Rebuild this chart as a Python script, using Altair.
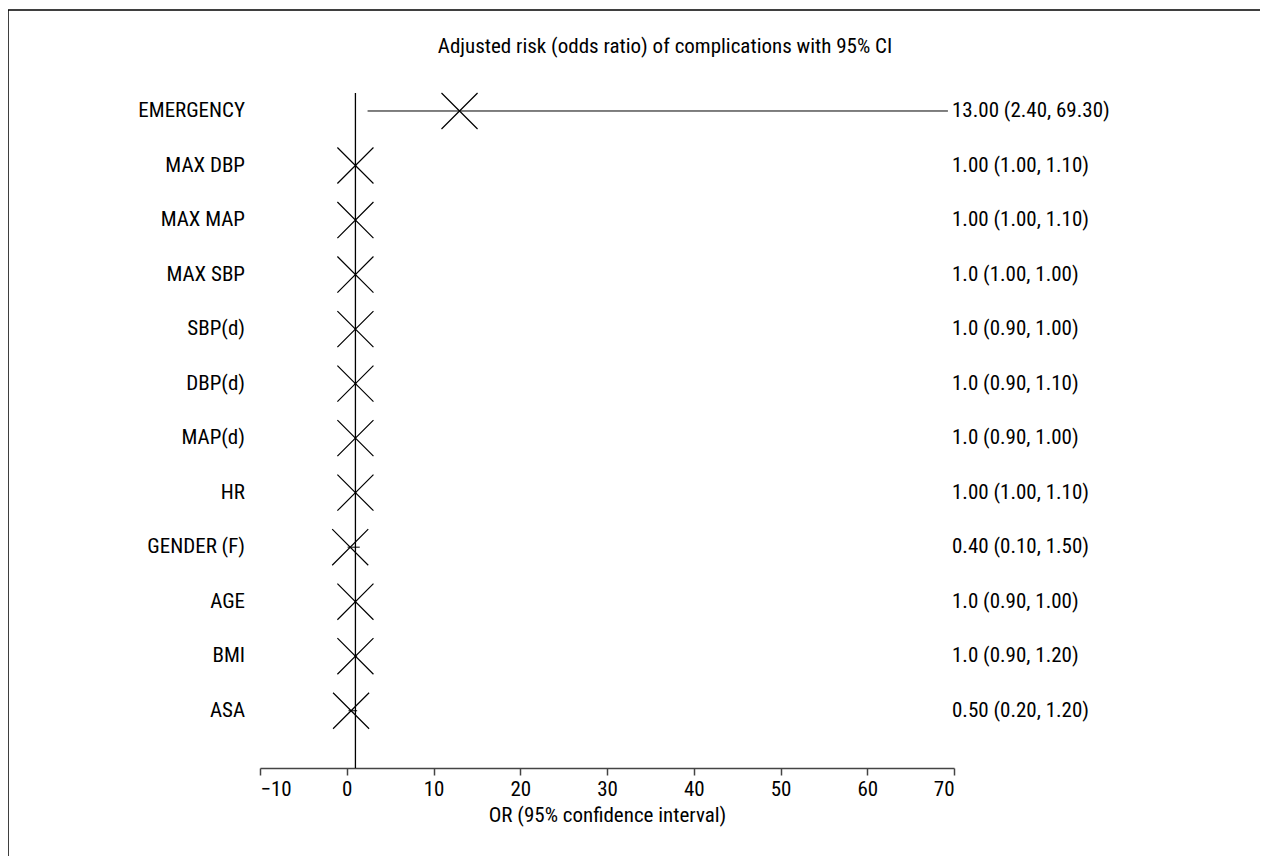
import altair as alt
import pandas as pd

labels = ["EMERGENCY", "MAX DBP", "MAX MAP", "MAX SBP", "SBP(d)", "DBP(d)",
          "MAP(d)", "HR", "GENDER (F)", "AGE", "BMI", "ASA"]
odds = [13.0, 1.0, 1.0, 1.0, 1.0, 1.0, 1.0, 1.0, 0.4, 1.0, 1.0, 0.5]
lower = [2.4, 1.0, 1.0, 1.0, 0.9, 0.9, 0.9, 1.0, 0.1, 0.9, 0.9, 0.2]
upper = [69.3, 1.1, 1.1, 1.0, 1.0, 1.1, 1.0, 1.1, 1.5, 1.0, 1.2, 1.2]
texts = ["13.00 (2.40, 69.30)", "1.00 (1.00, 1.10)", "1.00 (1.00, 1.10)",
         "1.0 (1.00, 1.00)", "1.0 (0.90, 1.00)", "1.0 (0.90, 1.10)",
         "1.0 (0.90, 1.00)", "1.00 (1.00, 1.10)", "0.40 (0.10, 1.50)",
         "1.0 (0.90, 1.00)", "1.0 (0.90, 1.20)", "0.50 (0.20, 1.20)"]

FONT = "Liberation Sans Narrow, Roboto Condensed, Liberation Sans, sans-serif"
FS = 21

df = pd.DataFrame({"row": list(range(len(labels))), "label": labels, "OR": odds,
                   "lo": lower, "hi": upper, "txt": texts})

W, H = 694, 675
xscale = alt.Scale(domain=[-10, 70], nice=False)
x = alt.X("OR:Q", scale=xscale)
y = alt.Y("row:Q", scale=alt.Scale(domain=[-0.33, 12.05], reverse=True), axis=None)

base = alt.Chart(df)

whisk = base.mark_rule(color="black", strokeWidth=1).encode(
    x=alt.X("lo:Q", scale=xscale,
            axis=alt.Axis(values=list(range(-10, 71, 10)), grid=False,
                          title="OR (95% confidence interval)",
                          labelFont=FONT, titleFont=FONT, labelFontSize=FS,
                          titleFontSize=FS, titleFontWeight="normal",
                          labelPadding=3, titlePadding=5)),
    x2="hi:Q", y=y)

pts = base.mark_point(shape="M-1,-1L1,1M-1,1L1,-1", size=1300, filled=False,
                      color="black", strokeWidth=1.2, opacity=1).encode(x=x, y=y)

zero = alt.Chart(pd.DataFrame({"v": [1]})).mark_rule(color="black", strokeWidth=1.3).encode(
    x=alt.X("v:Q", scale=xscale), y=alt.value(0), y2=alt.value(H))

left = base.mark_text(align="right", baseline="middle", font=FONT, fontSize=FS).encode(
    x=alt.value(-15), y=y, text="label:N")
right = base.mark_text(align="left", baseline="middle", font=FONT, fontSize=FS).encode(
    x=alt.value(692), y=y, text="txt:N")

title = alt.Chart(pd.DataFrame({"t": ["Adjusted risk (odds ratio) of complications with 95% CI"]})).mark_text(
    align="center", baseline="middle", font=FONT, fontSize=FS).encode(
    x=alt.value(405), y=alt.value(-46), text="t:N")

frame = alt.Chart(pd.DataFrame({"a": [0]})).mark_rect(
    fill=None, stroke="black", strokeWidth=1.5, clip=False).encode(
    x=alt.value(-252), x2=alt.value(1200), y=alt.value(-83), y2=alt.value(900))

chart = alt.layer(frame, zero, whisk, pts, left, right, title).properties(
    width=W, height=H, autosize=alt.AutoSizeParams(type="none"),
    padding={"left": 252, "top": 85, "right": 306, "bottom": 88}
).configure_view(stroke=None).configure_axis(
    labelColor="black", titleColor="black",
    domainColor="#444", tickColor="#444", domainWidth=1.5, tickWidth=1.5,
    tickSize=7
)

chart.save("out.html", embed_options={"renderer": "svg", "actions": False})
